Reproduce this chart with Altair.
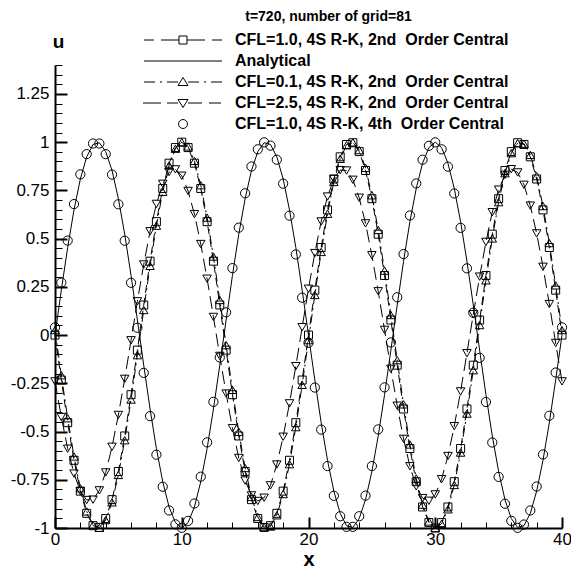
import altair as alt
import pandas as pd

# ---------------- data ----------------
x_vals = [0, 0.5, 1, 1.5, 2, 2.5, 3, 3.5, 4, 4.5, 5, 5.5, 6, 6.5, 7, 7.5, 8, 8.5, 9, 9.5,
          10, 10.5, 11, 11.5, 12, 12.5, 13, 13.5, 14, 14.5, 15, 15.5, 16, 16.5, 17, 17.5, 18, 18.5, 19, 19.5,
          20, 20.5, 21, 21.5, 22, 22.5, 23, 23.5, 24, 24.5, 25, 25.5, 26, 26.5, 27, 27.5, 28, 28.5, 29, 29.5,
          30, 30.5, 31, 31.5, 32, 32.5, 33, 33.5, 34, 34.5, 35, 35.5, 36, 36.5, 37, 37.5, 38, 38.5, 39, 39.5, 40]

u_analytical = [0.0, 0.233, 0.454, 0.649, 0.809, 0.924, 0.988, 0.997, 0.951, 0.853, 0.707,
                0.523, 0.309, 0.078, -0.156, -0.383, -0.588, -0.760, -0.891, -0.972, -1.0,
                -0.972, -0.891, -0.760, -0.588, -0.383, -0.156, 0.078, 0.309, 0.523, 0.707,
                0.853, 0.951, 0.997, 0.988, 0.924, 0.809, 0.649, 0.454, 0.233, 0.0,
                -0.233, -0.454, -0.649, -0.809, -0.924, -0.988, -0.997, -0.951, -0.853, -0.707,
                -0.523, -0.309, -0.078, 0.156, 0.383, 0.588, 0.760, 0.891, 0.972, 1.0,
                0.972, 0.891, 0.760, 0.588, 0.383, 0.156, -0.078, -0.309, -0.523, -0.707,
                -0.853, -0.951, -0.997, -0.988, -0.924, -0.809, -0.649, -0.454, -0.233, 0.0]

u_cfl10_2nd = [0.0, -0.233, -0.454, -0.649, -0.809, -0.924, -0.988, -0.997, -0.951, -0.853, -0.707,
               -0.523, -0.309, -0.078, 0.156, 0.383, 0.588, 0.760, 0.891, 0.972, 1.0,
               0.972, 0.891, 0.760, 0.588, 0.383, 0.156, -0.078, -0.309, -0.523, -0.707,
               -0.853, -0.951, -0.997, -0.988, -0.924, -0.809, -0.649, -0.454, -0.233, 0.0,
               0.233, 0.454, 0.649, 0.809, 0.924, 0.988, 0.997, 0.951, 0.853, 0.707,
               0.523, 0.309, 0.078, -0.156, -0.383, -0.588, -0.760, -0.891, -0.972, -1.0,
               -0.972, -0.891, -0.760, -0.588, -0.383, -0.156, 0.078, 0.309, 0.523, 0.707,
               0.853, 0.951, 0.997, 0.988, 0.924, 0.809, 0.649, 0.454, 0.233, 0.0]

u_cfl01_2nd = [0.026, -0.208, -0.431, -0.629, -0.794, -0.914, -0.984, -0.999, -0.959, -0.867, -0.725,
               -0.545, -0.334, -0.104, 0.130, 0.359, 0.567, 0.743, 0.879, 0.966, 1.0,
               0.978, 0.903, 0.777, 0.609, 0.407, 0.182, -0.052, -0.284, -0.501, -0.689,
               -0.839, -0.943, -0.995, -0.992, -0.934, -0.824, -0.669, -0.477, -0.258, -0.026,
               0.208, 0.431, 0.629, 0.794, 0.914, 0.984, 0.999, 0.959, 0.867, 0.725,
               0.545, 0.334, 0.104, -0.130, -0.359, -0.567, -0.743, -0.879, -0.966, -1.0,
               -0.978, -0.903, -0.777, -0.609, -0.407, -0.182, 0.052, 0.284, 0.501, 0.689,
               0.839, 0.943, 0.995, 0.992, 0.934, 0.824, 0.669, 0.477, 0.258, 0.026]

u_cfl25_2nd = [-0.240, -0.425, -0.589, -0.718, -0.809, -0.855, -0.853, -0.805, -0.712, -0.579, -0.414,
               -0.227, -0.027, 0.175, 0.366, 0.538, 0.680, 0.784, 0.845, 0.859, 0.826,
               0.747, 0.627, 0.472, 0.292, 0.094, -0.108, -0.303, -0.483, -0.637, -0.754,
               -0.831, -0.860, -0.843, -0.779, -0.671, -0.527, -0.354, -0.161, 0.041, 0.240,
               0.425, 0.589, 0.718, 0.809, 0.855, 0.853, 0.805, 0.712, 0.579, 0.414,
               0.227, 0.027, -0.175, -0.366, -0.538, -0.680, -0.784, -0.845, -0.859, -0.826,
               -0.747, -0.627, -0.472, -0.292, -0.094, 0.108, 0.303, 0.483, 0.637, 0.754,
               0.831, 0.860, 0.843, 0.779, 0.671, 0.527, 0.354, 0.161, -0.041, -0.240]

u_cfl10_4th = [0.040, 0.272, 0.490, 0.679, 0.833, 0.938, 0.993, 0.993, 0.938, 0.832, 0.678,
               0.489, 0.271, 0.038, -0.196, -0.420, -0.620, -0.786, -0.909, -0.981, -0.999,
               -0.963, -0.873, -0.734, -0.556, -0.346, -0.116, 0.118, 0.347, 0.557, 0.735,
               0.874, 0.963, 0.999, 0.982, 0.909, 0.785, 0.619, 0.418, 0.194, -0.040,
               -0.272, -0.490, -0.679, -0.833, -0.939, -0.994, -0.994, -0.939, -0.832, -0.679,
               -0.489, -0.271, -0.038, 0.196, 0.420, 0.620, 0.786, 0.909, 0.981, 0.999,
               0.963, 0.873, 0.734, 0.556, 0.346, 0.116, -0.118, -0.347, -0.557, -0.735,
               -0.874, -0.963, -0.999, -0.982, -0.909, -0.785, -0.619, -0.418, -0.194, 0.040]

# the wide gap before "Order" is kept with a no-break space
legend_labels = ["CFL=1.0, 4S R-K, 2nd \u00a0Order Central",
                 "Analytical",
                 "CFL=0.1, 4S R-K, 2nd \u00a0Order Central",
                 "CFL=2.5, 4S R-K, 2nd \u00a0Order Central",
                 "CFL=1.0, 4S R-K, 4th \u00a0Order Central"]

x_major = [0, 10, 20, 30, 40]
x_minor = [2, 4, 6, 8, 12, 14, 16, 18, 22, 24, 26, 28, 32, 34, 36, 38]
y_major = [-1, -0.75, -0.5, -0.25, 0, 0.25, 0.5, 0.75, 1, 1.25]
y_minor = [round(-1 + 0.05 * i, 2) for i in range(49) if i % 5 != 0]

# ---------------- styling ----------------
FONT = "Liberation Sans"
W, H = 507, 463

# legend symbols: line style + marker, as paths in pixel units
legend_paths = [
    "M-39,0H-29M-22,0H-4M4,0H22M29,0H39M-4,-4H4V4H-4Z",
    "M-39,0H39",
    "M-39,0H-28M-23,0H-21M-16,0H-5M5,0H16M21,0H23M28,0H39M0,-4.5L-5,3.5H5Z",
    "M-40,0H-22M-16,0H-5M5,0H19M26,0H38M0,4.5L-5,-3.5H5Z",
    "M4.5,0A4.5,4.5,0,1,1,-4.5,0A4.5,4.5,0,1,1,4.5,0Z",
]

df = pd.DataFrame({
    "x": x_vals,
    "ana": u_analytical,
    "sq": u_cfl10_2nd,
    "tu": u_cfl01_2nd,
    "td": u_cfl25_2nd,
    "ci": u_cfl10_4th,
})
leg_df = pd.DataFrame({"label": legend_labels})

xs = alt.Scale(domain=[0, 40], nice=False, zero=False)
ys = alt.Scale(domain=[-1, 1.4], nice=False, zero=False)

ax_x_main = alt.Axis(orient="bottom", values=x_major, ticks=False, grid=False,
                     domainWidth=2, domainColor="black", labelFont=FONT, labelFontSize=17,
                     labelColor="black", labelPadding=3, labelFlush=False, labelOverlap=False,
                     title="x", titleFont=FONT, titleFontSize=20, titleFontWeight="bold",
                     titleColor="black", titleBaseline="alphabetic", titleY=37)
ax_y_main = alt.Axis(orient="left", values=y_major, ticks=False, grid=False,
                     domainWidth=2, domainColor="black", labelFont=FONT, labelFontSize=17,
                     labelColor="black", labelPadding=6, labelFlush=False, labelOverlap=False,
                     labelExpr="toString(datum.value)",
                     title="u", titleFont=FONT, titleFontSize=19, titleFontWeight="bold",
                     titleColor="black", titleAngle=0, titleAlign="center",
                     titleBaseline="alphabetic", titleX=3, titleY=-18)
ax_x_major_in = alt.Axis(orient="top", offset=-H, values=x_major, labels=False, domain=False,
                         tickSize=11, tickWidth=2, tickColor="black", grid=False, title=None)
ax_y_major_in = alt.Axis(orient="right", offset=-W, values=y_major, labels=False, domain=False,
                         tickSize=12, tickWidth=2, tickColor="black", grid=False, title=None)
ax_x_minor_in = alt.Axis(orient="top", offset=-H, values=x_minor, labels=False, domain=False,
                         tickSize=6, tickWidth=1, tickColor="black", grid=False, title=None)
ax_y_minor_in = alt.Axis(orient="right", offset=-W, values=y_minor, labels=False, domain=False,
                         tickSize=7, tickWidth=1, tickColor="black", grid=False, title=None)

base = alt.Chart(df)


def X(axis):
    return alt.X("x:Q", scale=xs, axis=axis)


def Y(field, axis):
    return alt.Y(field + ":Q", scale=ys, axis=axis)


analytical = base.mark_line(color="black", strokeWidth=1).encode(
    x=X(ax_x_main), y=Y("ana", ax_y_main))
sq_line = base.mark_line(color="black", strokeWidth=1, strokeDash=[8, 5]).encode(
    x=X(ax_x_major_in), y=Y("sq", ax_y_major_in))
sq_pts = base.mark_point(shape="square", size=64, filled=False, color="black",
                         strokeWidth=1, opacity=1).encode(
    x=X(ax_x_minor_in), y=Y("sq", ax_y_minor_in))
tu_line = base.mark_line(color="black", strokeWidth=1, strokeDash=[9, 4, 2, 4]).encode(
    x=X(None), y=Y("tu", None))
tu_pts = base.mark_point(shape="triangle-up", size=72, filled=False, color="black",
                         strokeWidth=1, opacity=1).encode(x=X(None), y=Y("tu", None))
td_line = base.mark_line(color="black", strokeWidth=1, strokeDash=[13, 6]).encode(
    x=X(None), y=Y("td", None))
td_pts = base.mark_point(shape="triangle-down", size=72, filled=False, color="black",
                         strokeWidth=1, opacity=1).encode(x=X(None), y=Y("td", None))
ci_pts = base.mark_point(shape="circle", size=85, filled=False, color="black",
                         strokeWidth=1, opacity=1).encode(x=X(None), y=Y("ci", None))

legend_layer = alt.Chart(leg_df).mark_point(filled=False, color="black", opacity=0).encode(
    shape=alt.Shape("label:N",
                    scale=alt.Scale(domain=legend_labels, range=legend_paths),
                    legend=alt.Legend(title=None, orient="none", legendX=80, legendY=-33,
                                      symbolSize=4, symbolStrokeWidth=1,
                                      symbolStrokeColor="black",
                                      symbolFillColor="transparent", symbolOpacity=1,
                                      symbolOffset=40, labelOffset=44,
                                      labelFont=FONT, labelFontSize=16,
                                      labelFontWeight="bold", labelColor="black",
                                      labelLimit=600, rowPadding=5, padding=0,
                                      labelBaseline="middle")))

chart = alt.layer(
    analytical, sq_line, tu_line, td_line, sq_pts, tu_pts, td_pts, ci_pts, legend_layer
).resolve_axis(
    x="independent", y="independent"
).properties(
    width=W, height=H,
    autosize=alt.AutoSizeParams(type="none"),
    padding={"left": 55, "top": 65, "right": 9, "bottom": 43},
    background="white",
    title=alt.TitleParams("t=720, number of grid=81", font=FONT, fontSize=14,
                          fontWeight="bold", color="black", anchor="middle",
                          frame="group", dx=20, dy=15, offset=12, baseline="alphabetic"),
).configure_view(strokeWidth=0)

chart.save("out.html", embed_options={"renderer": "svg", "actions": False})
